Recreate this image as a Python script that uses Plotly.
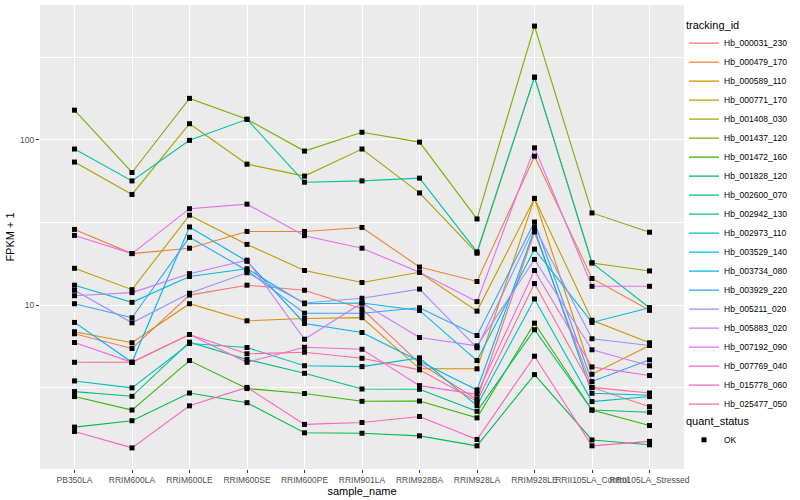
import plotly.graph_objects as go

sample_names = ["PB350LA", "RRIM600LA", "RRIM600LE", "RRIM600SE", "RRIM600PE",
                "RRIM901LA", "RRIM928BA", "RRIM928LA", "RRIM928LE",
                "RRII105LA_Control", "RRII105LA_Stressed"]

tracking_ids = ["Hb_000031_230", "Hb_000479_170", "Hb_000589_110", "Hb_000771_170",
                "Hb_001408_030", "Hb_001437_120", "Hb_001472_160", "Hb_001828_120",
                "Hb_002600_070", "Hb_002942_130", "Hb_002973_110", "Hb_003529_140",
                "Hb_003734_080", "Hb_003929_220", "Hb_005211_020", "Hb_005883_020",
                "Hb_007192_090", "Hb_007769_040", "Hb_015778_060", "Hb_025477_050"]

colors = ["#F8766D", "#EA8331", "#D89000", "#C09B00", "#A3A500", "#7CAE00", "#39B600",
          "#00BB4E", "#00BF7D", "#00C1A3", "#00BFC4", "#00BAE0", "#00B0F6", "#35A2FF",
          "#9590FF", "#C77CFF", "#E76BF3", "#FA62DB", "#FF62BC", "#FF6C91"]

# FPKM + 1 per sample
hb_000031_230 = [6.71, 5.47, 11.5, 13.2, 12.3, 9.5, 4.45, 2.69, 27.7, 3.18, 2.43]
hb_000479_170 = [28.7, 20.5, 22.1, 27.9, 27.9, 29.5, 17.0, 13.9, 79.6, 14.5, 9.3]
hb_000589_110 = [6.90, 5.92, 10.2, 8.04, 8.30, 8.40, 4.12, 4.12, 44.2, 3.82, 5.70]
hb_000771_170 = [16.7, 12.4, 35.0, 23.3, 16.2, 13.7, 15.8, 9.2, 44.2, 8.1, 5.92]
hb_001408_030 = [73.3, 46.7, 125, 71.2, 60.3, 87.9, 47.7, 20.6, 239, 18.0, 16.1]
hb_001437_120 = [151, 63.4, 178, 133, 85.4, 111, 96.8, 33.2, 487, 36.1, 27.6]
hb_001472_160 = [2.80, 2.32, 4.62, 3.13, 2.92, 2.62, 2.63, 2.08, 7.78, 2.32, 1.87]
hb_001828_120 = [1.83, 2.00, 2.94, 2.57, 1.69, 1.68, 1.62, 1.41, 3.80, 1.53, 1.43]
hb_002600_070 = [3.00, 2.81, 5.97, 4.69, 3.87, 3.11, 3.10, 2.28, 7.10, 2.32, 2.25]
hb_002942_130 = [87.9, 56.4, 99.2, 133, 55.4, 56.4, 58.6, 21.0, 239, 18.0, 9.64]
hb_002973_110 = [3.48, 3.16, 5.86, 5.54, 4.30, 4.25, 4.80, 2.47, 10.9, 2.61, 2.80]
hb_003529_140 = [13.2, 10.4, 14.9, 16.6, 10.2, 10.3, 9.29, 4.62, 21.8, 7.86, 9.64]
hb_003734_080 = [7.86, 4.51, 29.7, 18.4, 7.75, 6.83, 4.58, 3.07, 28.7, 2.93, 2.85]
hb_003929_220 = [10.2, 8.39, 25.7, 16.2, 8.94, 8.94, 9.64, 6.55, 31.8, 3.45, 4.67]
hb_005211_020 = [12.3, 7.82, 11.8, 15.7, 10.3, 11.0, 12.5, 5.52, 29.7, 6.26, 5.70]
hb_005883_020 = [11.4, 11.9, 15.5, 18.7, 6.22, 10.3, 6.37, 5.67, 18.9, 5.37, 4.30]
hb_007192_090 = [26.4, 20.5, 38.3, 40.8, 26.3, 22.1, 15.8, 10.5, 89.4, 13.0, 13.0]
hb_007769_040 = [5.94, 4.51, 6.64, 4.51, 5.56, 5.41, 3.26, 2.89, 16.2, 4.23, 3.75]
hb_015778_060 = [1.72, 1.37, 2.46, 3.18, 1.90, 1.95, 2.12, 1.54, 4.91, 1.41, 1.50]
hb_025477_050 = [4.51, 4.51, 6.64, 5.08, 5.19, 4.77, 4.06, 2.62, 13.5, 3.18, 2.94]

series_values = [hb_000031_230, hb_000479_170, hb_000589_110, hb_000771_170,
                 hb_001408_030, hb_001437_120, hb_001472_160, hb_001828_120,
                 hb_002600_070, hb_002942_130, hb_002973_110, hb_003529_140,
                 hb_003734_080, hb_003929_220, hb_005211_020, hb_005883_020,
                 hb_007192_090, hb_007769_040, hb_015778_060, hb_025477_050]

quant_status = "OK"

FONT = "Liberation Sans, Arial, Helvetica, sans-serif"

fig = go.Figure()

for name, col, vals in zip(tracking_ids, colors, series_values):
    fig.add_trace(go.Scatter(
        x=sample_names, y=vals, mode="lines", name=name,
        line=dict(color=col, width=1.1),
        legend="legend", hoverinfo="skip"))

for i, vals in enumerate(series_values):
    fig.add_trace(go.Scatter(
        x=sample_names, y=vals, mode="markers", name=quant_status,
        marker=dict(color="black", size=5, symbol="square"),
        legend="legend2", legendgroup="qs", showlegend=(i == 0)))

fig.update_layout(
    width=800, height=500,
    margin=dict(l=40, r=116, t=5, b=31),
    paper_bgcolor="white", plot_bgcolor="#EBEBEB",
    font=dict(family=FONT, size=10, color="#000000"),
    showlegend=True,
    legend=dict(
        title=dict(text="tracking_id", font=dict(size=11, color="black")),
        x=1.0, xanchor="left", y=0.98, yanchor="top",
        font=dict(size=8.5, color="black"), itemwidth=30,
        tracegroupgap=0, bgcolor="rgba(0,0,0,0)"),
    legend2=dict(
        title=dict(text="quant_status", font=dict(size=11, color="black")),
        x=1.0, xanchor="left", y=0.125, yanchor="top",
        font=dict(size=8.5, color="black"), itemwidth=30,
        bgcolor="rgba(0,0,0,0)"),
    xaxis=dict(
        title=dict(text="sample_name", font=dict(size=11, color="black"), standoff=2),
        type="category", categoryorder="array", categoryarray=sample_names,
        range=[-0.6, len(sample_names) - 0.4],
        showgrid=True, gridcolor="white", gridwidth=1.1,
        tickangle=0, ticks="outside", ticklen=3, tickcolor="#333333",
        tickfont=dict(size=8.5, color="#4D4D4D"), zeroline=False, showline=False,
        automargin=False),
    yaxis=dict(
        title=dict(text="FPKM + 1", font=dict(size=11, color="black"), standoff=3),
        type="log", range=[0.009, 2.815],
        tickmode="array", tickvals=[10, 100], ticktext=["10", "100"],
        showgrid=True, gridcolor="white", gridwidth=1.1,
        minor=dict(tickmode="array", tickvals=[10 ** 0.5, 10 ** 1.5, 10 ** 2.5],
                   showgrid=True, gridcolor="white", gridwidth=0.5, ticks=""),
        ticks="outside", ticklen=3, tickcolor="#333333",
        tickfont=dict(size=8.5, color="#4D4D4D"), zeroline=False, showline=False,
        automargin=False),
)

fig.write_html("out.html", config={"displayModeBar": False},
               post_script="document.body.style.margin='0';document.body.style.overflow='hidden';")
